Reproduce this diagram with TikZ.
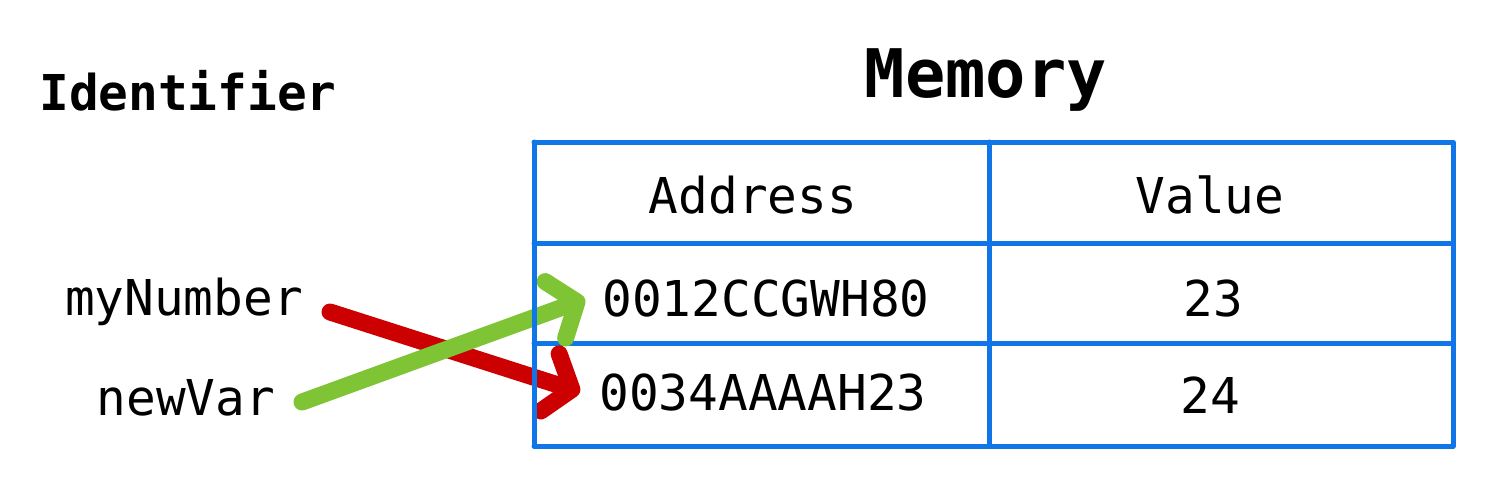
\documentclass[tikz,border=0pt]{standalone}
\usepackage{fontspec}
\setmonofont{DejaVu Sans Mono}
\usetikzlibrary{arrows.meta}
\definecolor{tblue}{RGB}{16,118,232}
\definecolor{ared}{RGB}{204,0,0}
\definecolor{agreen}{RGB}{126,196,52}
\tikzset{
  txt/.style={inner sep=0pt, anchor=base, font=\ttfamily\fontsize{24.7pt}{28pt}\selectfont},
  bold/.style={inner sep=0pt, anchor=base, font=\ttfamily\bfseries\fontsize{24.7pt}{28pt}\selectfont},
  title/.style={inner sep=0pt, anchor=base, font=\ttfamily\bfseries\fontsize{33.5pt}{38pt}\selectfont},
  grid/.style={draw=tblue, line width=2.5pt, line cap=round, line join=round},
  ptr/.style={line width=8.5pt, line cap=round, line join=round,
    -{Straight Barb[length=11.5pt, width=30pt, line cap=round, line join=round]}},
}
\begin{document}
\begin{tikzpicture}[x=0.5pt,y=-0.5pt]
\useasboundingbox (0,0) rectangle (1512,500);
% titles
\node[bold] (ident) at (188,110) {Identifier};
\node[title] (mem) at (986,97) {Memory};
% table
\coordinate (tl) at (534,142);
\coordinate (tr) at (1453,142);
\coordinate (br) at (1453,446);
\coordinate (bl) at (534,446);
\draw[grid] (tl) -- (tr) -- (br) -- (bl);
\draw[grid] (989,142) -- (989,446);
\draw[grid] (534,243) -- (1453,243);
\draw[grid] (534,343) -- (1453,343);
% cells
\node[txt] (haddr) at (753,213) {Address};
\node[txt] (hval) at (1210,213) {Value};
\node[txt] (addr1) at (766,316) {0012CCGWH80};
\node[txt] (val1) at (1213,316) {23};
\node[txt] (addr2) at (763,410) {0034AAAAH23};
\node[txt] (val2) at (1210,413) {24};
% identifiers
\node[txt] (mynum) at (184,315) {myNumber};
\node[txt] (newvar) at (186,415) {newVar};
% pointers
\coordinate (rs) at (330,312);
\coordinate (rt) at (580,392);
\coordinate (gs) at (302,402);
\coordinate (gt) at (585,299);
\draw[ptr, ared] (rs) -- (rt);
\draw[ptr, agreen] (gs) -- (gt);
% left border over the pointers
\draw[grid] (bl) -- (tl);
\end{tikzpicture}
\end{document}
